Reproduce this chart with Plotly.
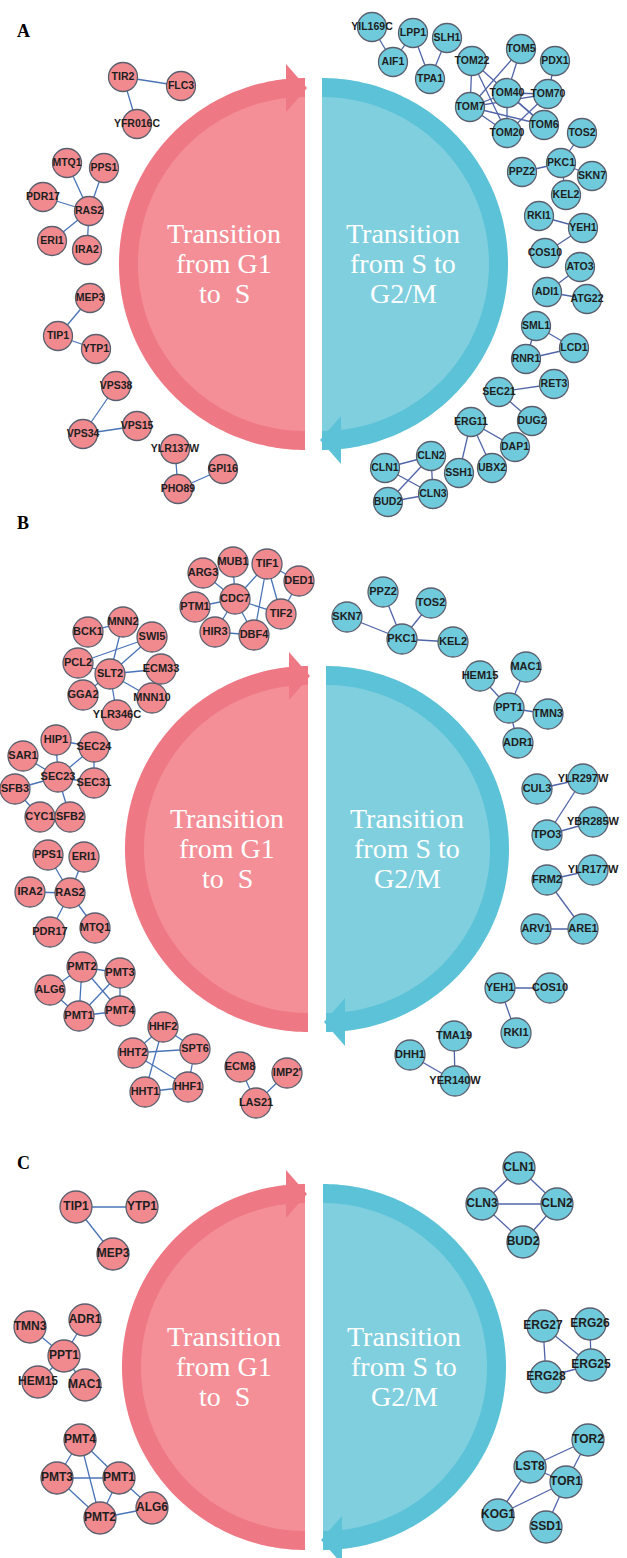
import numpy as np
import plotly.graph_objects as go

W, H = 627, 1558

# ---------------- interaction networks ----------------
# Panel A
A_G1_EDGES = [("TIR2", "FLC3"), ("TIR2", "YFR016C"), ("RAS2", "MTQ1"), ("RAS2", "PPS1"),
              ("RAS2", "PDR17"), ("RAS2", "ERI1"), ("RAS2", "IRA2"), ("MEP3", "TIP1"),
              ("TIP1", "YTP1"), ("VPS38", "VPS34"), ("VPS34", "VPS15"),
              ("YLR137W", "PHO89"), ("PHO89", "GPI16")]
A_SG2_EDGES = [("YIL169C", "AIF1"), ("AIF1", "LPP1"), ("LPP1", "TPA1"), ("TPA1", "SLH1"),
               ("TOM22", "TOM7"), ("TOM22", "TOM20"), ("TOM22", "TOM6"), ("TOM5", "TOM7"),
               ("TOM5", "TOM40"), ("PDX1", "TOM70"), ("TOM40", "TOM70"), ("TOM7", "TOM40"),
               ("TOM7", "TOM70"), ("TOM7", "TOM6"), ("TOM7", "TOM20"), ("TOM40", "TOM20"),
               ("TOM40", "TOM6"), ("TOM70", "TOM20"), ("PKC1", "TOS2"), ("PKC1", "PPZ2"),
               ("PKC1", "SKN7"), ("PKC1", "KEL2"), ("RKI1", "YEH1"), ("YEH1", "COS10"),
               ("ATO3", "ADI1"), ("ADI1", "ATG22"), ("SML1", "LCD1"), ("SML1", "RNR1"),
               ("RNR1", "LCD1"), ("SEC21", "RET3"), ("SEC21", "DUG2"), ("ERG11", "DAP1"),
               ("ERG11", "SSH1"), ("ERG11", "UBX2"), ("CLN1", "CLN2"), ("CLN1", "CLN3"),
               ("CLN2", "CLN3"), ("CLN2", "BUD2"), ("BUD2", "CLN3")]

# Panel B
B_G1_EDGES = [("ARG3", "CDC7"), ("MUB1", "CDC7"), ("TIF1", "CDC7"), ("CDC7", "PTM1"),
              ("CDC7", "TIF2"), ("CDC7", "HIR3"), ("CDC7", "DBF4"), ("HIR3", "DBF4"),
              ("TIF1", "DBF4"), ("TIF1", "TIF2"), ("TIF1", "DED1"), ("DED1", "TIF2"),
              ("BCK1", "MNN2"), ("MNN2", "SLT2"), ("SWI5", "PCL2"), ("SWI5", "SLT2"),
              ("PCL2", "SLT2"), ("SLT2", "ECM33"), ("SLT2", "GGA2"), ("SLT2", "MNN10"),
              ("SLT2", "YLR346C"), ("HIP1", "SEC24"), ("HIP1", "SEC23"), ("SAR1", "SEC23"),
              ("SEC23", "SEC24"), ("SEC24", "SEC31"), ("SEC23", "SEC31"), ("SEC23", "SFB3"),
              ("SEC23", "SFB2"), ("SFB3", "CYC1"), ("RAS2", "PPS1"), ("RAS2", "ERI1"),
              ("RAS2", "IRA2"), ("RAS2", "PDR17"), ("RAS2", "MTQ1"), ("PMT2", "PMT3"),
              ("PMT2", "ALG6"), ("PMT2", "PMT1"), ("PMT2", "PMT4"), ("PMT3", "PMT1"),
              ("PMT3", "PMT4"), ("ALG6", "PMT1"), ("PMT1", "PMT4"), ("HHF2", "HHT2"),
              ("HHF2", "SPT6"), ("HHF2", "HHT1"), ("HHT2", "SPT6"), ("HHT2", "HHF1"),
              ("HHT1", "HHF1"), ("SPT6", "HHF1"), ("ECM8", "LAS21"), ("LAS21", "IMP2'")]
B_SG2_EDGES = [("SKN7", "PKC1"), ("PPZ2", "PKC1"), ("TOS2", "PKC1"), ("PKC1", "KEL2"),
               ("HEM15", "PPT1"), ("MAC1", "PPT1"), ("PPT1", "TMN3"), ("PPT1", "ADR1"),
               ("CUL3", "YLR297W"), ("YLR297W", "TPO3"), ("TPO3", "YBR285W"),
               ("FRM2", "YLR177W"), ("FRM2", "ARE1"), ("ARV1", "ARE1"), ("YEH1", "COS10"),
               ("YEH1", "RKI1"), ("TMA19", "YER140W"), ("DHH1", "YER140W")]

# Panel C
C_G1_EDGES = [("TIP1", "YTP1"), ("TIP1", "MEP3"), ("TMN3", "PPT1"), ("ADR1", "PPT1"),
              ("PPT1", "HEM15"), ("PPT1", "MAC1"), ("PMT4", "PMT3"), ("PMT4", "PMT1"),
              ("PMT4", "PMT2"), ("PMT3", "PMT1"), ("PMT3", "PMT2"), ("PMT1", "PMT2"),
              ("PMT1", "ALG6"), ("PMT2", "ALG6")]
C_SG2_EDGES = [("CLN1", "CLN3"), ("CLN1", "CLN2"), ("CLN3", "CLN2"), ("CLN3", "BUD2"),
               ("CLN2", "BUD2"), ("ERG27", "ERG28"), ("ERG27", "ERG25"), ("ERG26", "ERG25"),
               ("ERG28", "ERG25"), ("LST8", "TOR2"), ("TOR2", "TOR1"), ("LST8", "TOR1"),
               ("LST8", "KOG1"), ("KOG1", "TOR1"), ("TOR1", "SSD1")]

# ---------------- node layout (page pixels) ----------------
A_G1_POS = {"TIR2": (123, 77), "FLC3": (181, 86), "YFR016C": (137, 124), "MTQ1": (67, 163),
            "PPS1": (104, 168), "PDR17": (43, 197), "RAS2": (89, 211), "ERI1": (52, 241),
            "IRA2": (87, 250), "MEP3": (90, 298), "TIP1": (58, 336), "YTP1": (96, 349),
            "VPS38": (116, 386), "VPS34": (83, 434), "VPS15": (137, 426),
            "YLR137W": (175, 449), "GPI16": (223, 469), "PHO89": (178, 489)}
A_SG2_POS = {"YIL169C": (372, 27), "LPP1": (413, 33), "SLH1": (447, 38), "AIF1": (393, 62),
             "TPA1": (430, 79), "TOM22": (472, 61), "TOM5": (521, 49), "PDX1": (555, 61),
             "TOM40": (507, 93), "TOM70": (548, 94), "TOM7": (470, 107), "TOM6": (544, 125),
             "TOM20": (507, 133), "TOS2": (582, 133), "PPZ2": (522, 172), "PKC1": (561, 163),
             "SKN7": (592, 176), "KEL2": (566, 195), "RKI1": (539, 216), "YEH1": (583, 228),
             "COS10": (545, 253), "ATO3": (580, 267), "ADI1": (547, 292), "ATG22": (587, 299),
             "SML1": (536, 326), "LCD1": (574, 348), "RNR1": (526, 359), "SEC21": (499, 392),
             "RET3": (554, 384), "DUG2": (532, 421), "ERG11": (471, 422), "DAP1": (515, 447),
             "SSH1": (459, 473), "UBX2": (492, 468), "CLN1": (385, 468), "CLN2": (431, 456),
             "CLN3": (433, 494), "BUD2": (388, 502)}
B_G1_POS = {"ARG3": (203, 573), "MUB1": (233, 562), "TIF1": (267, 564), "DED1": (299, 581),
            "CDC7": (235, 599), "PTM1": (195, 607), "TIF2": (281, 614), "HIR3": (215, 632),
            "DBF4": (254, 635), "MNN2": (123, 622), "BCK1": (88, 632), "SWI5": (152, 637),
            "PCL2": (78, 663), "SLT2": (110, 674), "ECM33": (161, 669), "GGA2": (83, 695),
            "MNN10": (152, 698), "YLR346C": (117, 715), "HIP1": (56, 740), "SEC24": (94, 747),
            "SAR1": (23, 756), "SEC23": (58, 777), "SEC31": (94, 783), "SFB3": (15, 789),
            "CYC1": (40, 817), "SFB2": (70, 817), "PPS1": (48, 855), "ERI1": (84, 857),
            "IRA2": (30, 892), "RAS2": (70, 893), "PDR17": (50, 932), "MTQ1": (95, 928),
            "PMT2": (82, 967), "PMT3": (120, 973), "ALG6": (50, 990), "PMT1": (79, 1016),
            "PMT4": (120, 1011), "HHF2": (163, 1027), "HHT2": (133, 1053), "SPT6": (195, 1049),
            "HHT1": (145, 1092), "HHF1": (188, 1087), "ECM8": (240, 1067), "IMP2'": (287, 1073),
            "LAS21": (256, 1103)}
B_SG2_POS = {"SKN7": (347, 617), "PPZ2": (383, 592), "TOS2": (431, 603), "PKC1": (402, 639),
             "KEL2": (453, 642), "HEM15": (480, 676), "MAC1": (526, 667), "PPT1": (509, 708),
             "TMN3": (548, 714), "ADR1": (518, 743), "CUL3": (537, 789), "YLR297W": (583, 779),
             "TPO3": (547, 835), "YBR285W": (593, 822), "FRM2": (547, 880),
             "YLR177W": (593, 870), "ARV1": (536, 929), "ARE1": (583, 929), "YEH1": (500, 988),
             "COS10": (550, 988), "RKI1": (516, 1033), "TMA19": (454, 1036),
             "DHH1": (410, 1055), "YER140W": (455, 1081)}
C_G1_POS = {"TIP1": (76, 1207), "YTP1": (142, 1207), "MEP3": (113, 1254), "TMN3": (30, 1327),
            "ADR1": (85, 1320), "PPT1": (64, 1356), "HEM15": (38, 1382), "MAC1": (85, 1385),
            "PMT4": (80, 1440), "PMT3": (57, 1478), "PMT1": (119, 1478), "ALG6": (152, 1508),
            "PMT2": (100, 1518)}
C_SG2_POS = {"CLN1": (519, 1168), "CLN3": (482, 1204), "CLN2": (557, 1204), "BUD2": (523, 1242),
             "ERG27": (543, 1326), "ERG26": (590, 1324), "ERG25": (591, 1365),
             "ERG28": (546, 1377), "TOR2": (588, 1440), "LST8": (530, 1467),
             "TOR1": (566, 1482), "KOG1": (498, 1515), "SSD1": (546, 1527)}

G1_TEXT = ["Transition", "from G1", "to  S"]
SG2_TEXT = ["Transition", "from S to", "G2/M"]

# panel geometry: label, pink edge x, blue edge x, centre y, radius, node size, label font
PANELS = [
    dict(label="A", lab_y=31, xp=305, xb=322, cy=264, R=186, node=29, font=10.5,
         g1=(A_G1_POS, A_G1_EDGES), sg2=(A_SG2_POS, A_SG2_EDGES)),
    dict(label="B", lab_y=523, xp=308, xb=326, cy=849, R=183, node=30, font=11,
         g1=(B_G1_POS, B_G1_EDGES), sg2=(B_SG2_POS, B_SG2_EDGES)),
    dict(label="C", lab_y=1163, xp=305, xb=323, cy=1367, R=183, node=32, font=12,
         g1=(C_G1_POS, C_G1_EDGES), sg2=(C_SG2_POS, C_SG2_EDGES)),
]

PINK_BAND, PINK_FILL, PINK_NODE = "#EE7884", "#F48F97", "#F08A8F"
BLUE_BAND, BLUE_FILL, BLUE_NODE = "#5CC2D7", "#80CFDF", "#6FCADC"
EDGE_PINK, EDGE_BLUE = "#4A74B8", "#5064A8"
BAND = 19


def half_disc(xe, cy, r, side, n=160):
    t = np.linspace(0, np.pi, n)
    xs = xe + side * r * np.sin(t)
    ys = cy - r * np.cos(t)
    return "M" + " L".join(f"{x:.2f},{y:.2f}" for x, y in zip(xs, ys)) + " Z"


def tri(p):
    return "M" + " L".join(f"{x:.2f},{y:.2f}" for x, y in p) + " Z"


shapes, annotations, traces = [], [], []

for P in PANELS:
    xp, xb, cy, R = P["xp"], P["xb"], P["cy"], P["R"]
    # pink half (G1 -> S), arrow head at the top pointing right
    shapes.append(dict(type="path", path=half_disc(xp, cy, R, -1), fillcolor=PINK_BAND,
                       line=dict(width=0), layer="below"))
    shapes.append(dict(type="path", path=half_disc(xp, cy, R - BAND, -1), fillcolor=PINK_FILL,
                       line=dict(width=0), layer="below"))
    shapes.append(dict(type="path",
                       path=tri([(xp - 19, cy - R - 14), (xp + 2, cy - R + 10), (xp - 19, cy - R + 34)]),
                       fillcolor=PINK_BAND, line=dict(width=0), layer="below"))
    # blue half (S -> G2/M), arrow head at the bottom pointing left
    shapes.append(dict(type="path", path=half_disc(xb, cy, R, 1), fillcolor=BLUE_BAND,
                       line=dict(width=0), layer="below"))
    shapes.append(dict(type="path", path=half_disc(xb, cy, R - BAND, 1), fillcolor=BLUE_FILL,
                       line=dict(width=0), layer="below"))
    shapes.append(dict(type="path",
                       path=tri([(xb + 19, cy + R + 14), (xb - 2, cy + R - 10), (xb + 19, cy + R - 34)]),
                       fillcolor=BLUE_BAND, line=dict(width=0), layer="below"))

    # phase captions
    for i, (t1, t2) in enumerate(zip(G1_TEXT, SG2_TEXT)):
        yy = cy - 31 + i * 30
        annotations.append(dict(x=xp - 81, y=yy, text=t1, showarrow=False, xanchor="center",
                                yanchor="middle",
                                font=dict(family="Liberation Serif", size=28, color="white")))
        annotations.append(dict(x=xb + 81, y=yy, text=t2, showarrow=False, xanchor="center",
                                yanchor="middle",
                                font=dict(family="Liberation Serif", size=28, color="white")))
    annotations.append(dict(x=23, y=P["lab_y"], text="<b>" + P["label"] + "</b>", showarrow=False,
                            xanchor="center", yanchor="middle",
                            font=dict(family="Liberation Serif", size=18, color="black")))

    for (pos, edges), node_col, edge_col in ((P["g1"], PINK_NODE, EDGE_PINK),
                                             (P["sg2"], BLUE_NODE, EDGE_BLUE)):
        ex, ey = [], []
        for a, b in edges:
            ex += [pos[a][0], pos[b][0], None]
            ey += [pos[a][1], pos[b][1], None]
        traces.append(go.Scatter(x=ex, y=ey, mode="lines", hoverinfo="skip",
                                 line=dict(color=edge_col, width=1.3)))
        names = list(pos.keys())
        traces.append(go.Scatter(
            x=[pos[n][0] for n in names], y=[pos[n][1] for n in names],
            mode="markers+text", text=names, textposition="middle center",
            marker=dict(size=P["node"], color=node_col, line=dict(color="#5A5F6E", width=1.3)),
            textfont=dict(family="Liberation Sans", size=P["font"], color="#1E1E1E",
                          weight="bold"),
            hoverinfo="text"))

fig = go.Figure(traces)
fig.update_layout(
    width=W, height=H, margin=dict(l=0, r=0, t=0, b=0),
    paper_bgcolor="white", plot_bgcolor="white", showlegend=False,
    xaxis=dict(range=[0, W], visible=False, fixedrange=True),
    yaxis=dict(range=[H, 0], visible=False, fixedrange=True),
    shapes=shapes, annotations=annotations,
)
fig.write_html("out.html")
